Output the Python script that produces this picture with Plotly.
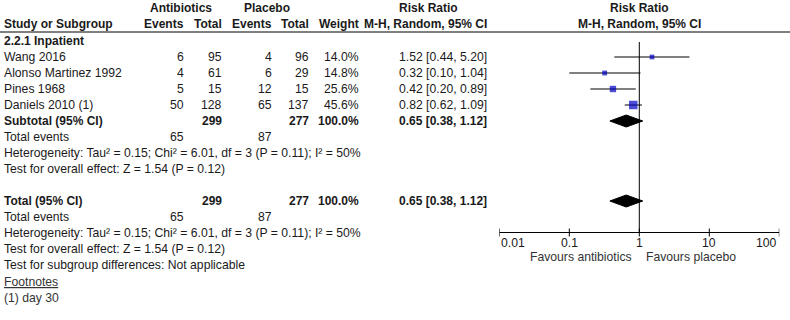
import math
import plotly.graph_objects as go

# ---------------- data ----------------
studies = ["Wang 2016", "Alonso Martinez 1992", "Pines 1968", "Daniels 2010 (1)"]
abx_events = [6, 4, 5, 50]
abx_total = [95, 61, 15, 128]
pla_events = [4, 6, 12, 65]
pla_total = [96, 29, 15, 137]
weights = [14.0, 14.8, 25.6, 45.6]
rr = [1.52, 0.32, 0.42, 0.82]
ci_lo = [0.44, 0.10, 0.20, 0.62]
ci_hi = [5.20, 1.04, 0.89, 1.09]

pooled_rr = 0.65
pooled_lo = 0.38
pooled_hi = 1.12
sum_abx_total = 299
sum_pla_total = 277
sum_abx_events = 65
sum_pla_events = 87

tick_vals = [0.01, 0.1, 1, 10, 100]
tick_labels = ["0.01", "0.1", "1", "10", "100"]

subgroup_label = "2.2.1 Inpatient"
heterogeneity = "Heterogeneity: Tau² = 0.15; Chi² = 6.01, df = 3 (P = 0.11); I² = 50%"
overall_test = "Test for overall effect: Z = 1.54 (P = 0.12)"
subgroup_test = "Test for subgroup differences: Not applicable"
footnote = "(1) day 30"
favours_left = "Favours antibiotics"
favours_right = "Favours placebo"

# ---------------- layout geometry ----------------
W, H = 790, 320
FONT = "Liberation Sans, Arial, sans-serif"
FS = 12.2
FSB = 12
TXT = "#1a1a1a"
BLUE = "#0000C0"
ROW0 = 57      # y of first study row (pixels from top)
STEP = 16      # row spacing
AX_Y = 232.5   # y of forest axis line

col_study = 2
col_abx_ev = 186
col_abx_tot = 224
col_pla_ev = 274
col_pla_tot = 311
col_weight = 361
col_ci = 489

X0_PX, X1_PX = 499.3, 779.3

def fmt2(v):
    return f"{v:.2f}"

annotations = []

def txt(x_px, y_px, s, anchor="left", bold=False, color=TXT):
    size = FS
    if bold:
        s = f"<b>{s}</b>"
        size = FSB
    annotations.append(dict(
        x=x_px / W, xref="paper", y=y_px, yref="y", text=s, showarrow=False,
        xanchor=anchor, yanchor="middle", font=dict(family=FONT, size=size, color=color),
    ))

# header
txt(180.5, 8, "Antibiotics", "center", True)
txt(267, 8, "Placebo", "center", True)
txt(428, 8, "Risk Ratio", "center", True)
txt(639, 8, "Risk Ratio", "center", True)
txt(col_study, 24, "Study or Subgroup", "left", True)
txt(col_abx_ev, 24, "Events", "right", True)
txt(col_abx_tot, 24, "Total", "right", True)
txt(col_pla_ev, 24, "Events", "right", True)
txt(col_pla_tot, 24, "Total", "right", True)
txt(col_weight, 24, "Weight", "right", True)
txt(col_ci, 24, "M-H, Random, 95% CI", "right", True)
txt(639, 24, "M-H, Random, 95% CI", "center", True)

txt(col_study, ROW0 - STEP, subgroup_label, "left", True)

row_y = [ROW0 + STEP * i for i in range(len(studies))]
for i, s in enumerate(studies):
    y = row_y[i]
    txt(col_study, y, s)
    txt(col_abx_ev, y, str(abx_events[i]), "right")
    txt(col_abx_tot, y, str(abx_total[i]), "right")
    txt(col_pla_ev, y, str(pla_events[i]), "right")
    txt(col_pla_tot, y, str(pla_total[i]), "right")
    txt(col_weight, y, f"{weights[i]:.1f}%", "right")
    txt(col_ci, y, f"{fmt2(rr[i])} [{fmt2(ci_lo[i])}, {fmt2(ci_hi[i])}]", "right")

summary_rows = []

def summary_block(y, label, extra_lines):
    txt(col_study, y, label, "left", True)
    txt(col_abx_tot, y, str(sum_abx_total), "right", True)
    txt(col_pla_tot, y, str(sum_pla_total), "right", True)
    txt(col_weight, y, f"{sum(weights):.1f}%", "right", True)
    txt(col_ci, y, f"{fmt2(pooled_rr)} [{fmt2(pooled_lo)}, {fmt2(pooled_hi)}]", "right", True)
    txt(col_study, y + STEP, "Total events")
    txt(col_abx_ev, y + STEP, str(sum_abx_events), "right")
    txt(col_pla_ev, y + STEP, str(sum_pla_events), "right")
    for k, line in enumerate(extra_lines):
        txt(col_study, y + STEP * (2 + k), line)
    summary_rows.append(y)

y_sub = ROW0 + STEP * len(studies)
summary_block(y_sub, "Subtotal (95% CI)", [heterogeneity, overall_test])
y_tot = y_sub + STEP * 5
summary_block(y_tot, "Total (95% CI)", [heterogeneity, overall_test, subgroup_test])
txt(col_study, y_tot + STEP * 5 + 1, "<u>Footnotes</u>", color="#333333")
txt(col_study, y_tot + STEP * 6 + 1, footnote, color="#333333")

# axis tick labels and favours labels (annotation x on a log axis is given in log10 units)
for i, (v, lab) in enumerate(zip(tick_vals, tick_labels)):
    anc = "left" if i == 0 else ("right" if i == len(tick_vals) - 1 else "center")
    annotations.append(dict(
        x=math.log10(v), xref="x", y=AX_Y + 10, yref="y", text=lab, showarrow=False,
        xanchor=anc, yanchor="middle", font=dict(family=FONT, size=FS, color=TXT),
    ))
annotations.append(dict(x=math.log10(1), xref="x", xshift=-5, y=AX_Y + 24, yref="y",
                        text=favours_left, showarrow=False, xanchor="right", yanchor="middle",
                        font=dict(family=FONT, size=FS, color="#333333")))
annotations.append(dict(x=math.log10(1), xref="x", xshift=5, y=AX_Y + 24, yref="y",
                        text=favours_right, showarrow=False, xanchor="left", yanchor="middle",
                        font=dict(family=FONT, size=FS, color="#333333")))

# ---------------- traces ----------------
fig = go.Figure()

fig.add_trace(go.Scatter(
    x=rr, y=row_y, mode="markers",
    marker=dict(symbol="square", color=BLUE, size=[1.26 * w ** 0.5 for w in weights],
                line=dict(width=0)),
    error_x=dict(type="data", array=[h - r for h, r in zip(ci_hi, rr)],
                 arrayminus=[r - l for r, l in zip(rr, ci_lo)],
                 width=0, thickness=1, color="black"),
    hoverinfo="skip", showlegend=False,
))

for y in summary_rows:
    fig.add_trace(go.Scatter(
        x=[pooled_lo, pooled_rr, pooled_hi, pooled_rr, pooled_lo],
        y=[y, y - 6, y, y + 6, y],
        mode="lines", fill="toself", fillcolor="black",
        line=dict(color="black", width=1), hoverinfo="skip", showlegend=False,
    ))

# ---------------- shapes (shape x on a log axis is given in data units) ----------------
shapes = [
    dict(type="line", xref="paper", yref="y", x0=0, x1=1, y0=32, y1=32,
         line=dict(color="black", width=1)),
    dict(type="line", xref="x", yref="y", x0=1, x1=1, y0=42, y1=AX_Y,
         line=dict(color="black", width=1)),
    dict(type="line", xref="x", yref="y", x0=tick_vals[0], x1=tick_vals[-1], y0=AX_Y, y1=AX_Y,
         line=dict(color="black", width=1)),
]
for v in tick_vals:
    shapes.append(dict(type="line", xref="x", yref="y", x0=v, x1=v, y0=AX_Y - 4, y1=AX_Y + 4,
                       line=dict(color="black", width=1)))

fig.update_layout(
    width=W, height=H, margin=dict(l=0, r=0, t=0, b=0),
    paper_bgcolor="white", plot_bgcolor="white",
    xaxis=dict(type="log", range=[-2, 2], domain=[X0_PX / W, X1_PX / W],
               showgrid=False, zeroline=False, showticklabels=False, showline=False,
               ticks="", fixedrange=True),
    yaxis=dict(range=[H, 0], domain=[0, 1], visible=False, fixedrange=True),
    annotations=annotations, shapes=shapes,
)

fig.write_html("out.html", post_script="document.body.style.margin='0';",
               config={"displayModeBar": False})
